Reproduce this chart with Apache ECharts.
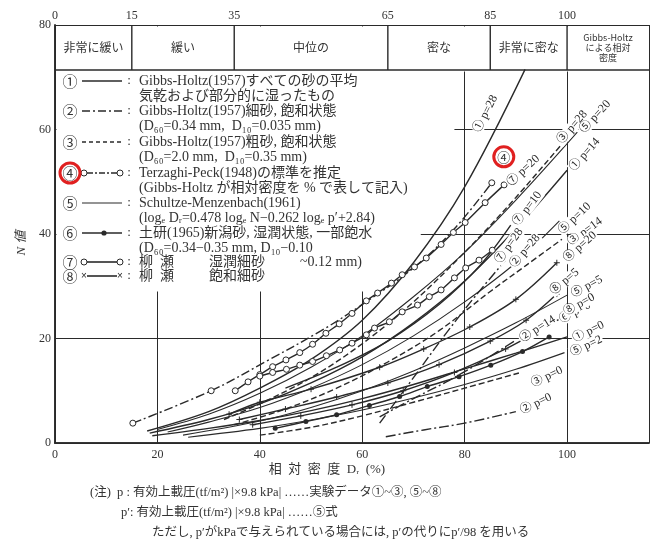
<!DOCTYPE html>
<html><head><meta charset="utf-8">
<script src="https://cdn.jsdelivr.net/npm/echarts@6/dist/echarts.min.js"></script>
<style>html,body{margin:0;padding:0;background:#fff}#c{width:659px;height:551px}</style>
</head><body><div id="c"></div>
<script>
// ---- axis ticks / categories ----
const topTicks = [0, 15, 35, 65, 85, 100];
const bandLabels = ['非常に緩い', '緩い', '中位の', '密な', '非常に密な', 'Gibbs-Holtz\nによる相対\n密度'];
const xTicks = [0, 20, 40, 60, 80, 100];
const yTicks = [0, 20, 40, 60, 80];

// ---- curves [Dr(%), N] ----
const g1_p28 = [[18,2.3],[30,6],[40,10.5],[50,16],[60,23.5],[70,34.5],[80,49],[91.8,71.5]];
const g1_p14 = [[18.5,1.9],[30,4.5],[40,7.5],[50,11.5],[60,16.5],[70,23],[80,31],[90,41],[100,52.2]];
const g1_p0  = [[19,1.4],[30,2.8],[40,4.3],[50,6.2],[60,8.5],[70,11.2],[80,14.2],[90,17.2],[100,20.3]];
const g2_p28 = [[63.4,3.8],[70,12.5],[76,20.5],[82,28],[88,35]];
const g2_p14 = [[63.4,5],[70,8.5],[77,12],[84,16],[90,19.7]];
const g2_p0  = [[64.6,1.2],[72,2.5],[80,3.8],[90,6]];
const g3_p28 = [[33,4.5],[40,7.5],[50,12.5],[60,19],[70,27],[80,36.5],[90,47],[100,58.4]];
const g3_p14 = [[35,3.5],[45,6.5],[55,10.5],[65,15.5],[75,21.5],[85,29],[92,34],[99,39]];
const g3_p0  = [[40,1.5],[50,3],[60,5.2],[70,7.8],[80,10.5],[90.6,13.4]];
const tp     = [[15.2,3.8],[30.5,10],[41,15.5],[52,21.5],[60,26.5],[70,33.5],[78,41],[85.3,49.8]];
const sm_p20 = [[20,2.6],[30,5.5],[40,9.5],[50,14.5],[60,20.5],[70,28],[80,36.5],[90,46.5],[102,59.5]];
const sm_p10 = [[22,2.1],[30,4],[40,6.8],[50,10.5],[60,15],[70,20.5],[80,27],[90,34.5],[98.5,42.5]];
const sm_p5  = [[25,1.5],[40,4.2],[50,6.8],[60,10],[70,13.8],[80,18.2],[90,23],[100,28.3]];
const sm_p2  = [[26,1.1],[40,2.8],[50,4.4],[60,6.3],[70,8.6],[80,11.2],[90,14.1],[99.5,17.3]];
const dk_p0  = [[43,2.8],[49,4.1],[55,5.4],[61.4,7.2],[67.3,8.9],[72.7,10.8],[78.9,12.7],[85.1,14.9],[91.3,17.5],[96.5,20.3]];
const y7_p20 = [[35.2,10],[37.7,11.7],[40,13.1],[42.5,14.6],[45.1,15.9],[47.8,17.3],[50.3,18.9],[52.9,21],[55.5,22.8],[58,24.8],[60.8,27.2],[63,28.7],[65.7,30.6],[67.8,32.2],[70.2,33.7],[72.5,35.4],[75.4,38],[77.8,40.3],[80.1,42.2],[84,46],[87.7,49.4]];
const y7_p28 = [[40,12.8],[42.5,13.5],[45.2,14.1],[47.8,14.9],[50.3,15.6],[53,16.7],[55.6,17.8],[58,19.1],[60.8,20.7],[62.4,22],[65.3,23.2],[67.8,25.1],[70.8,26.4],[73.1,28],[75.4,29.3],[78,31.6],[80.2,33.5],[82.8,35],[85.4,36.9]];
const y7_p10 = [[45,10.5],[55,14.5],[65,19.5],[75,26.5],[83,34],[89,41.7]];
const y8_p20 = [[34,5.5],[40,7.8],[50,10.3],[63.4,14.5],[72,18],[81,22.2],[90,27.5],[98,34.5]];
const y8_p5  = [[36,4.5],[45,6.5],[55,8.8],[65,11.5],[75,15],[85,19.5],[92,23.5],[98,28.5]];
const y8_p0  = [[38.6,3.5],[48,5.2],[58,7.3],[68,10],[78,13.5],[88,18],[99,24]];

const BLACK = '#2a2a2a';
const chart = echarts.init(document.getElementById('c'), null, {renderer: 'canvas'});
const PXX = 5.13, PXY = 5.225; // approx px per unit, only for label angles

// label placement tweaks (style only): [dx, dy] and rotation overrides
const labelOffset = {
  '③ p=28': [-12, -6], '⑤ p=10': [-11, 6], '③ p=14': [-1, 5], '⑧ p=20': [4, 1],
  '② p=28': [-4, 6], '⑦ p=28': [-10, 8], '⑧ p=5': [-7, -7], '⑧ p=0': [0, -5],
  '⑥ p=0': [13, -11], '① p=0': [0, 3], '⑤ p=2': [1, 2], '③ p=0': [2, 14]
};
const labelRot = {'⑦ p=28': 55, '② p=28': 50};

function mk(data, kind, label) {
  const n = data.length, a = data[n - 2], b = data[n - 1];
  let ang = Math.atan2((b[1] - a[1]) * PXY, (b[0] - a[0]) * PXX) * 180 / Math.PI;
  ang = Math.min(Math.max(ang, 26), 62);
  if (labelRot[label]) ang = labelRot[label];
  const s = {type: 'line', data: data, smooth: 0.35, z: 3, silent: true,
    lineStyle: {color: BLACK, width: 1.4, type: 'solid'},
    itemStyle: {color: BLACK}, symbol: 'none', symbolSize: 6,
    endLabel: {show: !!label, formatter: label || '', rotate: ang, color: BLACK,
      offset: labelOffset[label] || [0, 0],
      fontSize: 12, fontFamily: 'Liberation Serif, Noto Sans CJK JP', backgroundColor: '#fff',
      padding: [0, 1], distance: 4}};
  if (kind === 2) s.lineStyle.type = [10, 3, 2, 3];
  if (kind === 3) s.lineStyle.type = [6, 3];
  if (kind === 4) { s.lineStyle.type = [9, 3, 2, 3];
    s.symbol = (v, p) => (p.dataIndex < 2 || p.dataIndex === n - 1) ? 'circle' : 'none'; s.symbolSize = 6;
    s.itemStyle = {color: '#fff', borderColor: BLACK, borderWidth: 1}; }
  if (kind === 5) s.lineStyle.width = 1.1;
  if (kind === 6) { s.symbol = 'circle'; s.symbolSize = 5; }
  if (kind === 7) { s.symbol = 'circle'; s.symbolSize = 6;
    s.itemStyle = {color: '#fff', borderColor: BLACK, borderWidth: 1}; }
  if (kind === 8) { s.symbol = 'path://M5,0L5,10M0,5L10,5'; s.symbolSize = 6;
    s.itemStyle = {color: 'none', borderColor: BLACK, borderWidth: 1}; }
  return s;
}

const series = [
  mk(g1_p28, 1, ''), mk(g1_p14, 1, '① p=14'), mk(g1_p0, 1, '① p=0'),
  mk(g2_p28, 2, '② p=28'), mk(g2_p14, 2, '② p=14'), mk(g2_p0, 2, '② p=0'),
  mk(g3_p28, 3, '③ p=28'), mk(g3_p14, 3, '③ p=14'), mk(g3_p0, 3, '③ p=0'),
  mk(tp, 4, ''),
  mk(sm_p20, 5, '⑤ p=20'), mk(sm_p10, 5, '⑤ p=10'), mk(sm_p5, 5, '⑤ p=5'), mk(sm_p2, 5, '⑤ p=2'),
  mk(dk_p0, 6, '⑥ p=0'),
  mk(y7_p20, 7, '⑦ p=20'), mk(y7_p28, 7, '⑦ p=28'), mk(y7_p10, 1, '⑦ p=10'),
  mk(y8_p20, 8, '⑧ p=20'), mk(y8_p5, 8, '⑧ p=5'), mk(y8_p0, 8, '⑧ p=0')
];

const axisFont = {color: '#333', fontSize: 12, fontFamily: 'Liberation Serif'};
const XMAX = 116, YMAX = 80, BAND = 71.4;
chart.setOption({
  animation: false,
  backgroundColor: '#fff',
  grid: {left: 55, right: 10, top: 25, bottom: 108},
  xAxis: [
    {type: 'value', min: 0, max: XMAX, interval: 20,
      axisLine: {lineStyle: {color: BLACK, width: 1.6}}, axisTick: {show: false},
      axisLabel: {...axisFont, margin: 6, formatter: v => xTicks.includes(v) ? String(v) : ''},
      splitLine: {show: true, lineStyle: {color: BLACK, width: 1}}},
    {type: 'value', position: 'top', min: 0, max: XMAX, interval: 5,
      axisLine: {show: true, lineStyle: {color: BLACK, width: 1.6}}, axisTick: {show: false},
      axisLabel: {...axisFont, margin: 3, formatter: v => topTicks.includes(v) ? String(v) : ''},
      splitLine: {show: false}}
  ],
  yAxis: [
    {type: 'value', min: 0, max: YMAX, interval: 20,
      axisLine: {show: true, lineStyle: {color: BLACK, width: 1.6}},
      axisTick: {show: true, inside: true, length: 4, lineStyle: {color: BLACK}},
      axisLabel: {...axisFont, margin: 4, formatter: v => yTicks.includes(v) ? String(v) : ''},
      splitLine: {show: true, lineStyle: {color: BLACK, width: 1}}},
    {type: 'value', position: 'right', min: 0, max: YMAX,
      axisLine: {show: true, lineStyle: {color: BLACK, width: 1.6}}, axisTick: {show: false},
      axisLabel: {show: false}, splitLine: {show: false}}
  ],
  series: series
});

// ---- decorations: band, legend, notes ----
const P = (x, y) => chart.convertToPixel({gridIndex: 0}, [x, y]);
const g = [];
const m1 = P(0, YMAX), m2 = P(XMAX, BAND);
g.push({type: 'rect', z: 1, shape: {x: m1[0] + 1.5, y: m1[1] + 1.5, width: m2[0] - m1[0] - 3, height: m2[1] - m1[1]}, style: {fill: '#fff'}});
const legPoly = [[0, BAND], [78, BAND], [78, 55], [71.5, 40], [64, 29], [0, 29]].map(p => P(p[0], p[1]));
legPoly[0][0] += 1.5; legPoly[5][0] += 1.5;
g.push({type: 'polygon', z: 1, shape: {points: legPoly}, style: {fill: '#fff'}});
const bl = P(0, BAND), br = P(XMAX, BAND);
g.push({type: 'line', z: 4, shape: {x1: bl[0], y1: bl[1], x2: br[0], y2: br[1]}, style: {stroke: BLACK, lineWidth: 1.4}});
topTicks.slice(1).forEach(t => {
  const a = P(t, YMAX), b = P(t, BAND);
  g.push({type: 'line', z: 4, shape: {x1: a[0], y1: a[1], x2: b[0], y2: b[1]}, style: {stroke: BLACK, lineWidth: 1.4}});
});
const bandEdges = topTicks.concat([XMAX]);
bandLabels.forEach((t, i) => {
  const a = P((bandEdges[i] + bandEdges[i + 1]) / 2, (YMAX + BAND) / 2);
  const small = i === 5;
  g.push({type: 'text', z: 5, x: a[0], y: a[1], style: {text: t, align: 'center', verticalAlign: 'middle',
    font: (small ? '9px ' : '12px ') + '"Noto Sans CJK JP", sans-serif', fill: '#333', lineHeight: small ? 10 : 14}});
});
const legRows = [
  ['①', 1, 'Gibbs-Holtz(1957)すべての砂の平均'],
  ['', 0, '気乾および部分的に湿ったもの'],
  ['②', 2, 'Gibbs-Holtz(1957)細砂, 飽和状態'],
  ['', 0, '(D₆₀=0.34 mm,  D₁₀=0.035 mm)'],
  ['③', 3, 'Gibbs-Holtz(1957)粗砂, 飽和状態'],
  ['', 0, '(D₆₀=2.0 mm,  D₁₀=0.35 mm)'],
  ['④', 4, 'Terzaghi-Peck(1948)の標準を推定'],
  ['', 0, '(Gibbs-Holtz が相対密度を % で表して記入)'],
  ['⑤', 5, 'Schultze-Menzenbach(1961)'],
  ['', 0, '(logₑ Dᵣ=0.478 logₑ N−0.262 logₑ p′+2.84)'],
  ['⑥', 6, '土研(1965)新潟砂, 湿潤状態, 一部飽水'],
  ['', 0, '(D₆₀=0.34−0.35 mm, D₁₀−0.10'],
  ['⑦', 7, '柳  瀬          湿潤細砂          ~0.12 mm)'],
  ['⑧', 8, '柳  瀬          飽和細砂']
];
const rowY = [81, 96, 111, 126, 142, 157, 173, 188, 203, 218, 233, 248, 262, 276];
legRows.forEach((r, i) => {
  const y = rowY[i];
  if (r[0]) {
    g.push({type: 'text', z: 5, x: 70, y: y, style: {text: r[0], align: 'center', verticalAlign: 'middle', font: '15px "Noto Sans CJK JP"', fill: '#333'}});
    g.push({type: 'text', z: 5, x: 129, y: y, style: {text: ':', align: 'center', verticalAlign: 'middle', font: '13px "Liberation Serif"', fill: '#333'}});
    const k = r[1];
    const dash = k === 2 ? [8, 3, 2, 3] : k === 3 ? [4, 3] : k === 4 ? [6, 2, 2, 2] : null;
    const sym = (k === 4 || k === 7 || k === 8);
    const x1 = sym ? 87 : 82, x2 = sym ? 117 : 122;
    g.push({type: 'line', z: 5, shape: {x1: x1, y1: y, x2: x2, y2: y}, style: {stroke: BLACK, lineWidth: k === 5 ? 1.2 : 1.6, lineDash: dash}});
    if (k === 4 || k === 7) [x1 - 3, x2 + 3].forEach(cx => g.push({type: 'circle', z: 6, shape: {cx: cx, cy: y, r: 3}, style: {fill: '#fff', stroke: BLACK, lineWidth: 1}}));
    if (k === 8) [x1 - 3, x2 + 3].forEach(cx => g.push({type: 'text', z: 6, x: cx, y: y, style: {text: '×', align: 'center', verticalAlign: 'middle', font: '10px sans-serif', fill: BLACK}}));
    if (k === 6) g.push({type: 'circle', z: 6, shape: {cx: 104, cy: y, r: 2.6}, style: {fill: BLACK}});
  }
  g.push({type: 'text', z: 5, x: 139, y: y, style: {text: r[2], align: 'left', verticalAlign: 'middle', font: '14px "Liberation Serif", "Noto Sans CJK JP"', fill: '#333'}});
});
// ① p=28 label placed beside the upper part of its curve
{
  const a = g1_p28[g1_p28.length - 2], b = g1_p28[g1_p28.length - 1];
  const pa = P(a[0], a[1]), pb = P(b[0], b[1]);
  const ang = Math.atan2(pa[1] - pb[1], pb[0] - pa[0]);
  const mx = (pa[0] + pb[0]) / 2 - 13, my = (pa[1] + pb[1]) / 2 + 6;
  g.push({type: 'text', z: 6, x: mx, y: my, rotation: ang, style: {text: '① p=28', align: 'left', verticalAlign: 'bottom',
    font: '12px "Liberation Serif", "Noto Sans CJK JP"', fill: BLACK, backgroundColor: '#fff'}});
}
// ④ label on the chart with red highlight rings
const tpEnd = P(tp[tp.length - 1][0], tp[tp.length - 1][1]);
const ringX = tpEnd[0] + 12, ringY = tpEnd[1] - 26;
g.push({type: 'text', z: 6, x: ringX, y: ringY, style: {text: '④', align: 'center', verticalAlign: 'middle', font: '13px "Noto Sans CJK JP"', fill: '#333', backgroundColor: '#fff'}});
g.push({type: 'circle', z: 7, shape: {cx: ringX, cy: ringY, r: 10}, style: {fill: 'none', stroke: '#e02020', lineWidth: 3}});
g.push({type: 'circle', z: 7, shape: {cx: 70, cy: 173, r: 10}, style: {fill: 'none', stroke: '#e02020', lineWidth: 3}});
// axis names
g.push({type: 'text', z: 5, x: 22, y: 243, rotation: Math.PI / 2, style: {text: 'N 値', align: 'center', verticalAlign: 'middle', font: 'italic 13px "Liberation Serif", "Noto Sans CJK JP"', fill: '#333'}});
g.push({type: 'text', z: 5, x: 327, y: 470, style: {text: '相  対  密  度  Dᵣ  (%)', align: 'center', verticalAlign: 'middle', font: '13px "Liberation Serif", "Noto Sans CJK JP"', fill: '#333'}});
const notes = [
  [90, 493, '(注)  p : 有効上載圧(tf/m²) |×9.8 kPa| ……実験データ①~③, ⑤~⑧'],
  [121, 513, 'p′: 有効上載圧(tf/m²) |×9.8 kPa| ……⑤式'],
  [152, 533, 'ただし, p′がkPaで与えられている場合には, p′の代りにp′/98 を用いる']
];
notes.forEach(n => g.push({type: 'text', z: 5, x: n[0], y: n[1], style: {text: n[2], align: 'left', verticalAlign: 'middle', font: '12.5px "Liberation Serif", "Noto Sans CJK JP"', fill: '#333'}}));
chart.setOption({graphic: g});
</script></body></html>
